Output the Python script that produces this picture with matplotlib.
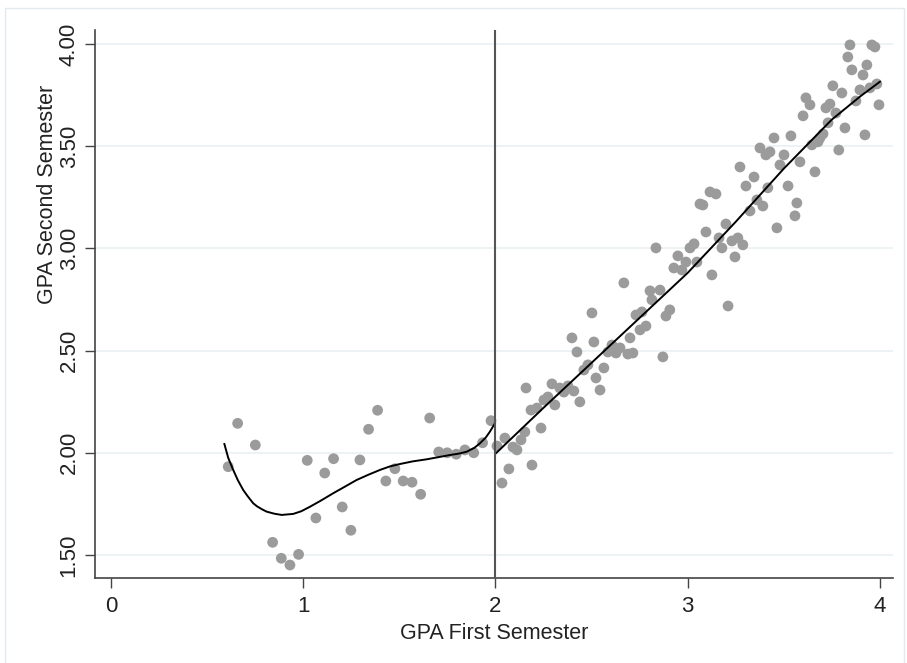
import matplotlib
matplotlib.use("Agg")
import matplotlib.pyplot as plt
from matplotlib.patches import Rectangle

# ---- data: scatter below the cutoff ----
left_x = [0.610, 0.659, 0.751, 0.841, 0.886, 0.931, 0.976, 1.021, 1.066, 1.112,
          1.158, 1.203, 1.248, 1.295, 1.340, 1.387, 1.430, 1.477, 1.520, 1.566,
          1.611, 1.658, 1.705, 1.749, 1.796, 1.841, 1.887, 1.933, 1.977]
left_y = [1.932, 2.144, 2.038, 1.562, 1.484, 1.451, 1.503, 1.963, 1.681, 1.901,
          1.971, 1.735, 1.621, 1.965, 2.115, 2.208, 1.862, 1.922, 1.862, 1.856,
          1.797, 2.170, 2.004, 2.000, 1.993, 2.014, 2.000, 2.049, 2.157]

# ---- data: scatter above the cutoff ----
right_x = [2.008, 2.034, 2.049, 2.070, 2.091, 2.112, 2.133, 2.153, 2.159, 2.185,
           2.190, 2.216, 2.237, 2.252, 2.273, 2.294, 2.309, 2.335, 2.356, 2.377,
           2.398, 2.408, 2.424, 2.439, 2.460, 2.481, 2.502, 2.512, 2.523, 2.544,
           2.564, 2.585, 2.606, 2.627, 2.648, 2.668, 2.689, 2.700, 2.715, 2.731,
           2.752, 2.762, 2.783, 2.804, 2.814, 2.835, 2.856, 2.871, 2.887, 2.907,
           2.928, 2.949, 2.970, 2.991, 3.012, 3.033, 3.048, 3.064, 3.079, 3.095,
           3.116, 3.126, 3.147, 3.163, 3.178, 3.199, 3.210, 3.230, 3.246, 3.261,
           3.272, 3.287, 3.303, 3.324, 3.345, 3.360, 3.376, 3.391, 3.407, 3.417,
           3.428, 3.449, 3.464, 3.480, 3.501, 3.522, 3.537, 3.558, 3.568, 3.584,
           3.600, 3.615, 3.636, 3.646, 3.662, 3.678, 3.688, 3.704, 3.719, 3.730,
           3.740, 3.755, 3.771, 3.786, 3.802, 3.818, 3.833, 3.844, 3.854, 3.875,
           3.896, 3.912, 3.922, 3.932, 3.948, 3.958, 3.974, 3.984, 3.995]
right_y = [2.033, 1.852, 2.072, 1.921, 2.028, 2.014, 2.063, 2.102, 2.317, 2.209,
           1.940, 2.219, 2.121, 2.258, 2.273, 2.337, 2.234, 2.317, 2.297, 2.327,
           2.562, 2.302, 2.493, 2.249, 2.405, 2.430, 2.684, 2.542, 2.366, 2.307,
           2.415, 2.493, 2.527, 2.488, 2.513, 2.831, 2.483, 2.562, 2.488, 2.674,
           2.601, 2.689, 2.620, 2.792, 2.748, 3.002, 2.796, 2.469, 2.669, 2.699,
           2.904, 2.963, 2.894, 2.933, 3.002, 3.022, 2.933, 3.217, 3.212, 3.080,
           3.276, 2.870, 3.266, 3.051, 3.002, 3.119, 2.718, 3.036, 2.958, 3.051,
           3.398, 3.017, 3.305, 3.183, 3.349, 3.237, 3.491, 3.207, 3.457, 3.296,
           3.472, 3.540, 3.100, 3.408, 3.457, 3.305, 3.550, 3.159, 3.222, 3.423,
           3.648, 3.736, 3.702, 3.506, 3.374, 3.521, 3.540, 3.560, 3.687, 3.614,
           3.706, 3.795, 3.662, 3.481, 3.760, 3.589, 3.936, 3.995, 3.873, 3.721,
           3.775, 3.848, 3.555, 3.897, 3.785, 3.995, 3.985, 3.804, 3.702]

# ---- data: fitted curves ----
fit_left_x = [0.590, 0.610, 0.636, 0.660, 0.688, 0.710, 0.740, 0.760, 0.785,
              0.810, 0.850, 0.888, 0.948, 0.990, 1.035, 1.090, 1.156, 1.220,
              1.278, 1.340, 1.399, 1.450, 1.503, 1.570, 1.642, 1.700, 1.763,
              1.810, 1.850, 1.890, 1.919, 1.950, 1.971, 1.997]
fit_left_y = [2.043, 1.975, 1.916, 1.866, 1.818, 1.789, 1.753, 1.738, 1.724,
              1.712, 1.702, 1.696, 1.701, 1.714, 1.736, 1.765, 1.802, 1.836,
              1.867, 1.893, 1.916, 1.933, 1.945, 1.958, 1.968, 1.978, 1.989,
              1.996, 2.005, 2.024, 2.046, 2.075, 2.103, 2.144]
fit_right_x = [2.003, 2.25, 2.50, 2.75, 3.00, 3.25, 3.50, 3.75, 3.90, 4.00]
fit_right_y = [1.998, 2.22, 2.44, 2.66, 2.88, 3.13, 3.39, 3.63, 3.745, 3.815]

cutoff = 2
x_ticks = [0, 1, 2, 3, 4]
y_ticks = [1.5, 2.0, 2.5, 3.0, 3.5, 4.0]
y_tick_labels = ["1.50", "2.00", "2.50", "3.00", "3.50", "4.00"]
x_label = "GPA First Semester"
y_label = "GPA Second Semester"

plt.rcParams['font.family'] = ['Liberation Sans', 'DejaVu Sans']

W, H = 907, 663
fig = plt.figure(figsize=(W / 100, H / 100), dpi=100)
fig.patch.set_facecolor('white')
fig.patches.append(Rectangle((5 / W, -0.01), 899 / W, 1 - 8 / H + 0.01,
                             transform=fig.transFigure, fill=False,
                             edgecolor='#e2eaee', linewidth=1.0))

ax = fig.add_axes([95 / W, 1 - 578 / H, (893 - 95) / W, (578 - 30) / H])
ax.set_xlim(-0.083, 4.068)
ax.set_ylim(1.3875, 4.068)

for yt in y_ticks:
    ax.axhline(yt, color='#eaf1f4', linewidth=1.2, zorder=0)

pt_color = '#9b9b9b'
ax.scatter(left_x, left_y, s=60, color=pt_color, edgecolors='none', zorder=2)
ax.scatter(right_x, right_y, s=60, color=pt_color, edgecolors='none', zorder=2)

ax.plot(fit_left_x, fit_left_y, color='black', linewidth=1.4, zorder=3,
        solid_joinstyle='round')
ax.plot(fit_right_x, fit_right_y, color='black', linewidth=1.4, zorder=3,
        solid_joinstyle='round')

ax.axvline(cutoff, color='#555555', linewidth=1.5, zorder=4)

for side in ['top', 'right']:
    ax.spines[side].set_visible(False)
for side in ['left', 'bottom']:
    ax.spines[side].set_color('#444444')
    ax.spines[side].set_linewidth(1.2)

ax.set_xticks(x_ticks)
ax.set_xticklabels([str(t) for t in x_ticks])
ax.set_yticks(y_ticks)
ax.set_yticklabels(y_tick_labels, rotation=90, va='center')
ax.tick_params(axis='both', direction='out', color='#444444', width=1.0,
               length=7, labelsize=16, labelcolor='#222222')
ax.tick_params(axis='x', pad=6)
ax.tick_params(axis='y', pad=4)

ax.set_xlabel(x_label, fontsize=15.5, color='#222222', labelpad=4)
ax.set_ylabel(y_label, fontsize=15.5, color='#222222', va='center', ha='center')
ax.yaxis.set_label_coords(-0.060, 0.70)

fig.savefig("out.png", dpi=100, facecolor='white')
